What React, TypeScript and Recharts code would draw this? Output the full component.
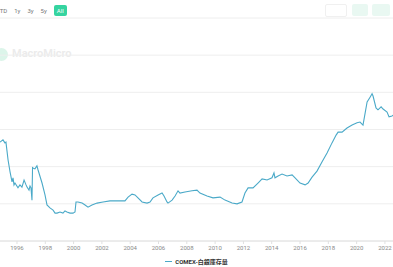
import { CartesianGrid, Line, LineChart, XAxis, YAxis } from 'recharts'

// decimal year of each sample
const years = [
  1994.8, 1995.01, 1995.15, 1995.22, 1995.37, 1995.51, 1995.65, 1995.72, 1995.79, 1995.86,
  1996.07, 1996.21, 1996.35, 1996.5, 1996.64, 1996.71, 1996.85, 1996.92, 1996.99, 1997.06,
  1997.1, 1997.13, 1997.27, 1997.41, 1997.49, 1997.77, 1997.98, 1998.12, 1998.33, 1998.55,
  1998.69, 1998.83, 1999.04, 1999.25, 1999.39, 1999.53, 1999.75, 1999.96, 2000.1, 2000.17,
  2000.31, 2000.6, 2000.81, 2001.02, 2001.3, 2001.66, 2002.08, 2002.57, 2003.07, 2003.42,
  2003.63, 2003.85, 2004.13, 2004.34, 2004.55, 2004.84, 2005.19, 2005.4, 2005.61, 2005.97,
  2006.25, 2006.39, 2006.6, 2006.67, 2006.96, 2007.17, 2007.38, 2007.52, 2007.87, 2008.37,
  2008.72, 2008.93, 2009.43, 2009.85, 2010.35, 2010.7, 2011.2, 2011.55, 2011.9, 2012.11,
  2012.33, 2012.68, 2013.03, 2013.32, 2013.67, 2014.02, 2014.16, 2014.23, 2014.45, 2014.73,
  2015.08, 2015.44, 2015.65, 2016.0, 2016.36, 2016.57, 2016.85, 2017.2, 2017.56, 2017.91,
  2018.26, 2018.55, 2018.69, 2018.97, 2019.32, 2019.68, 2020.03, 2020.24, 2020.45, 2020.6,
  2020.74, 2020.95, 2021.09, 2021.16, 2021.37, 2021.51, 2021.73, 2021.87, 2022.15, 2022.29,
  2022.5, 2022.57,
]

// COMEX silver stocks, million oz
const stock = [
  266, 272, 264, 266, 218, 186, 159, 170, 151, 156,
  143, 151, 145, 164, 151, 145, 137, 148, 143, 110,
  199, 196, 194, 202, 191, 156, 124, 97, 89, 83,
  75, 75, 78, 75, 81, 78, 75, 75, 78, 105,
  105, 102, 97, 91, 97, 102, 105, 108, 108, 108,
  108, 118, 126, 124, 116, 105, 102, 105, 116, 124,
  129, 121, 105, 102, 110, 121, 135, 129, 132, 135,
  137, 129, 121, 116, 118, 110, 102, 100, 105, 129,
  143, 143, 156, 167, 164, 170, 183, 170, 175, 180,
  175, 178, 170, 156, 151, 156, 172, 188, 213, 237,
  264, 285, 293, 293, 304, 312, 318, 320, 312, 344,
  374, 387, 396, 390, 358, 353, 361, 355, 347, 334,
  336, 339,
]

const xTicks = [1996, 1998, 2000, 2002, 2004, 2006, 2008, 2010, 2012, 2014, 2016, 2018, 2020, 2022]
const yTicks = [0, 50, 100, 150, 200, 250, 300, 350, 400, 450, 500, 550, 600]
const ranges = ['YTD', '1y', '3y', '5y']

const data = years.map((y, i) => ({ t: y, v: stock[i] }))

export default function App() {
  return (
    <div
      style={{
        position: 'absolute',
        left: 0,
        top: 0,
        width: 393,
        height: 267,
        overflow: 'hidden',
        background: '#fff',
        fontFamily: 'Roboto, "Noto Sans CJK TC", sans-serif',
      }}
    >
      {/* range selector */}
      <div style={{ position: 'absolute', left: -4, top: 5, display: 'flex', alignItems: 'center', fontSize: 6, color: '#777' }}>
        {ranges.map((r) => (
          <span key={r} style={{ marginRight: 7 }}>{r}</span>
        ))}
        <span style={{ background: '#35d4a0', color: '#fff', padding: '2px 3px', borderRadius: 2 }}>All</span>
      </div>
      <div style={{ position: 'absolute', left: 325, top: 4, width: 20, height: 11, border: '1px solid #f0f0f0', borderRadius: 2 }} />
      <div style={{ position: 'absolute', left: 352, top: 4, width: 16, height: 12, background: '#e9f8f2', borderRadius: 2 }} />
      <div style={{ position: 'absolute', left: 372, top: 4, width: 18, height: 12, background: '#e9f8f2', borderRadius: 2 }} />

      {/* watermark */}
      <div style={{ position: 'absolute', left: -5, top: 48, width: 13, height: 13, borderRadius: '50%', background: '#dcf5ea' }} />
      <div style={{ position: 'absolute', left: 12, top: 47, fontSize: 11, fontWeight: 600, color: '#ebebeb' }}>MacroMicro</div>

      <LineChart width={393} height={267} data={data} margin={{ top: 18, right: 0, bottom: 0, left: 0 }} style={{ position: 'absolute', left: 0, top: 0 }}>
        <CartesianGrid vertical={false} stroke="#eeeeee" />
        <XAxis
          dataKey="t"
          type="number"
          domain={[1994.8, 2022.57]}
          ticks={xTicks}
          height={26}
          tickSize={3}
          stroke="#e0e0e0"
          tick={{ fill: '#8a8a8a', fontSize: 6 }}
          interval={0}
          allowDataOverflow
        />
        <YAxis hide domain={[0, 600]} ticks={yTicks} />
        <Line type="linear" dataKey="v" stroke="#4aa9c8" strokeWidth={1.1} dot={false} isAnimationActive={false} />
      </LineChart>

      {/* legend */}
      <div style={{ position: 'absolute', left: 0, width: 393, top: 257, display: 'flex', justifyContent: 'center', alignItems: 'center', fontSize: 6, fontWeight: 700, color: '#333' }}>
        <span style={{ display: 'inline-block', width: 7, height: 1.2, background: '#4aa9c8', marginRight: 3 }} />
        COMEX-白銀庫存量
      </div>
    </div>
  )
}
